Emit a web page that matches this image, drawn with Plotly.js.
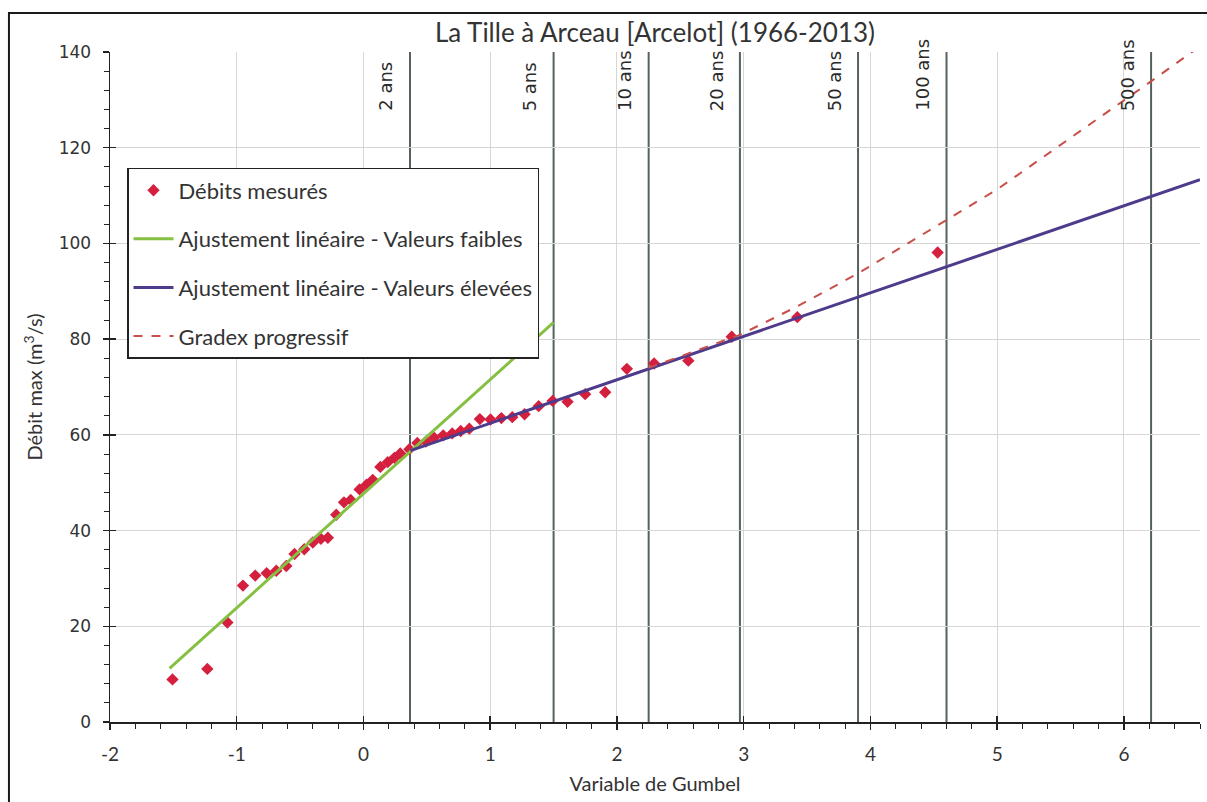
<!DOCTYPE html>
<html>
<head>
<meta charset="utf-8">
<script src="https://cdn.plot.ly/plotly-3.0.1.min.js"></script>
<style>
html,body{margin:0;padding:0;background:#fff;}
#chart{width:1207px;height:802px;}
</style>
</head>
<body>
<div id="chart"></div>
<script>
// Measured annual maxima (Gumbel reduced variable, discharge m3/s)
const gumbelX = [-1.507,-1.232,-1.074,-0.951,-0.854,-0.764,-0.688,-0.609,-0.544,-0.467,
  -0.400,-0.336,-0.281,-0.215,-0.154,-0.101,-0.031,0.024,0.073,0.133,
  0.191,0.244,0.290,0.362,0.425,0.492,0.557,0.629,0.700,0.767,
  0.835,0.918,1.002,1.088,1.174,1.271,1.382,1.492,1.610,1.749,
  1.907,2.078,2.293,2.563,2.905,3.423,4.530];
const debitY = [8.9,11.1,20.8,28.5,30.6,31.1,31.6,32.6,35.1,36.1,
  37.5,38.3,38.5,43.3,45.9,46.4,48.6,49.6,50.6,53.3,
  54.3,55.2,56.1,57.0,58.3,58.6,59.4,59.9,60.3,60.8,
  61.3,63.3,63.2,63.5,63.7,64.3,66.0,67.1,66.9,68.5,
  68.9,73.8,74.9,75.5,80.5,84.6,98.1];

// Linear fit - low values
const faiblesX = [-1.53, 1.50];
const faiblesY = [11.2, 83.5];
// Linear fit - high values
const eleveesX = [0.37, 6.60];
const eleveesY = [56.7, 113.3];
// Progressive gradex
const gradexX = [2.25, 2.97, 3.42, 3.90, 4.60, 5.00, 6.21, 6.60];
const gradexY = [74.0, 80.9, 86.8, 93.7, 104.9, 111.3, 133.8, 141.2];

// Return periods
const periodLabels = ["2 ans","5 ans","10 ans","20 ans","50 ans","100 ans","500 ans"];
const periodX = [0.367, 1.500, 2.250, 2.970, 3.902, 4.600, 6.214];

// Axis tick labels
const xTickVals = [-2, -1, 0, 1, 2, 3, 4, 5, 6];
const xTickText = ["-2", "-1", "0", "1", "2", "3", "4", "5", "6"];

const calibri = "Lato, 'Open Sans', sans-serif";
const verdana = "'DejaVu Sans', sans-serif";

const traces = [
  {x: gumbelX, y: debitY, type: 'scatter', mode: 'markers', name: 'Débits mesurés',
   legendgroup: 'a',
   marker: {symbol: 'diamond', size: 9.5, color: '#d4203e'}},
  {x: faiblesX, y: faiblesY, type: 'scatter', mode: 'lines', name: 'Ajustement linéaire - Valeurs faibles',
   legendgroup: 'b',
   line: {color: '#86c042', width: 3}},
  {x: eleveesX, y: eleveesY, type: 'scatter', mode: 'lines', name: 'Ajustement linéaire - Valeurs élevées',
   legendgroup: 'c',
   line: {color: '#4e3b8c', width: 3}},
  {x: gradexX, y: gradexY, type: 'scatter', mode: 'lines', name: 'Gradex progressif',
   legendgroup: 'd',
   line: {color: '#c8504b', width: 2, dash: 'dash'}},
  {x: [null], y: [null], xaxis: 'x2', yaxis: 'y2', type: 'scatter', mode: 'markers', showlegend: false, hoverinfo: 'skip'}
];

const shapes = periodX.map(v => ({
  type: 'line', xref: 'x', yref: 'y', x0: v, x1: v, y0: 0, y1: 140,
  line: {color: '#556060', width: 2}, layer: 'below'
}));
// outer frame
shapes.push({type: 'rect', xref: 'paper', yref: 'paper',
  x0: -0.0927, x1: 1.012, y0: -0.13, y1: 1.0582,
  line: {color: '#1a1a1a', width: 2}, fillcolor: 'rgba(0,0,0,0)', layer: 'above'});

const annotations = periodLabels.map((t, i) => ({
  x: periodX[i], y: 127.2, xref: 'x', yref: 'y', text: t, showarrow: false,
  textangle: -90, xanchor: 'center', yanchor: 'bottom', xshift: -24,
  font: {family: verdana, size: 18, color: '#2a2a2a'}
}));

const layout = {
  width: 1207, height: 802,
  paper_bgcolor: '#fff', plot_bgcolor: '#fff',
  margin: {l: 110, r: 7, t: 52, b: 80},
  showlegend: true,
  title: {text: 'La Tille à Arceau [Arcelot] (1966-2013)', x: 0.5, xref: 'paper',
    y: 0.959, yref: 'container', yanchor: 'middle',
    font: {family: calibri, size: 26, color: '#333'}},
  xaxis: {range: [-2, 6.6], tickmode: 'array', tickvals: xTickVals, ticktext: xTickText,
    showgrid: true, gridcolor: '#d6d6d6', gridwidth: 1,
    zeroline: false, showline: true, linecolor: '#222', linewidth: 1.5,
    ticks: 'outside', ticklen: 6, tickcolor: '#222', tickwidth: 1.5,
    minor: {dtick: 0.2, tick0: 0, ticks: 'outside', ticklen: 5, tickcolor: '#222', tickwidth: 1, showgrid: false},
    ticklabelstandoff: 9,
    tickfont: {family: calibri, size: 19, color: '#333'},
    title: {text: 'Variable de Gumbel', standoff: 12, font: {family: calibri, size: 20, color: '#333'}},
    automargin: false},
  yaxis: {range: [0, 140], tick0: 0, dtick: 20, showgrid: true, gridcolor: '#d6d6d6', gridwidth: 1,
    zeroline: false, showline: true, linecolor: '#222', linewidth: 1.5,
    ticks: 'outside', ticklen: 6, tickcolor: '#222', tickwidth: 1.5,
    minor: {dtick: 4, ticks: 'outside', ticklen: 5, tickcolor: '#222', tickwidth: 1, showgrid: false},
    ticklabelstandoff: 8,
    tickfont: {family: verdana, size: 17, color: '#333'},
    title: {text: 'Débit max (m<sup>3</sup>/s)', standoff: 10, font: {family: calibri, size: 20, color: '#333'}},
    automargin: false},
  xaxis2: {overlaying: 'x', anchor: 'y', side: 'bottom', range: [-2, 6.6], tick0: 0, dtick: 1,
    ticks: 'inside', ticklen: 6, tickcolor: '#222', tickwidth: 1.5,
    showticklabels: false, showgrid: false, zeroline: false, showline: false},
  yaxis2: {overlaying: 'y', anchor: 'x', side: 'left', range: [0, 140], tick0: 0, dtick: 20,
    ticks: 'inside', ticklen: 6, tickcolor: '#222', tickwidth: 1.5,
    showticklabels: false, showgrid: false, zeroline: false, showline: false},
  legend: {x: 0.0156, y: 0.827, xanchor: 'left', yanchor: 'top',
    bgcolor: '#fff', bordercolor: '#222', borderwidth: 1.5,
    tracegroupgap: 17, itemwidth: 40,
    font: {family: calibri, size: 22, color: '#333'}},
  shapes: shapes,
  annotations: annotations
};

Plotly.newPlot('chart', traces, layout, {displayModeBar: false, staticPlot: true});
</script>
</body>
</html>
